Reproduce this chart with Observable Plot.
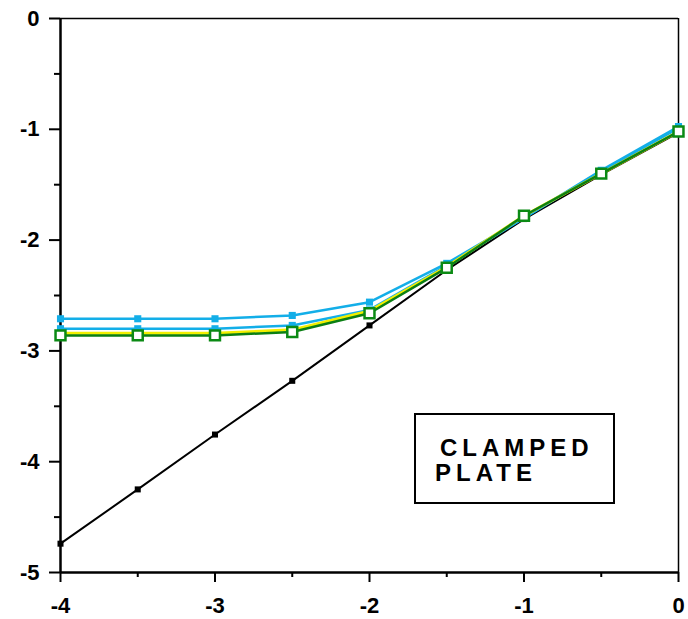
<!DOCTYPE html>
<html>
<head>
<meta charset="utf-8">
<script src="https://cdn.jsdelivr.net/npm/d3@7"></script>
<script src="https://cdn.jsdelivr.net/npm/@observablehq/plot@0.6"></script>
<style>
  html, body { margin: 0; padding: 0; background: #fff; }
  #wrap { position: relative; width: 688px; height: 619px; }
  #chart svg text { font-size: 22px !important; font-weight: bold !important; font-family: "Liberation Sans", Arial, sans-serif !important; }
  #legend {
    position: absolute; left: 414px; top: 413px; width: 197px; height: 87px;
    border: 2px solid #000; background: #fff;
    font-family: "Liberation Sans", Arial, sans-serif; font-weight: bold;
    font-size: 24px; letter-spacing: 5px; line-height: 25px; color: #000;
  }
  #legend .l1 { position: absolute; left: 24px; top: 20px; }
  #legend .l2 { position: absolute; left: 19px; top: 45px; }
</style>
</head>
<body>
<div id="wrap"><div id="chart"></div>
<div id="legend"><span class="l1">CLAMPED</span><span class="l2">PLATE</span></div>
</div>
<script>
const xs      = [-4, -3.5, -3, -2.5, -2, -1.5, -1, -0.5, 0];
const black   = [-4.74, -4.25, -3.755, -3.27, -2.77, -2.27, -1.81, -1.41, -1.03];
const cyanA   = [-2.71, -2.71, -2.71, -2.68, -2.56, -2.21, -1.80, -1.37, -0.975];
const cyanB   = [-2.80, -2.80, -2.80, -2.77, -2.63, -2.23, -1.80, -1.38, -0.99];
const yellow  = [-2.84, -2.84, -2.84, -2.81, -2.64, -2.24, -1.78, -1.40, -1.02];
const green   = [-2.86, -2.86, -2.86, -2.83, -2.66, -2.25, -1.78, -1.40, -1.02];
const yTicks  = [0, -1, -2, -3, -4, -5];
const yMinor  = [-0.5, -1.5, -2.5, -3.5, -4.5];
const xTicks  = [-4, -3, -2, -1, 0];
const xMinor  = [-3.5, -2.5, -1.5, -0.5];

const mk = arr => xs.map((x, i) => ({x, y: arr[i]}));
const blank = () => "";

const plot = Plot.plot({
  width: 688, height: 619,
  marginLeft: 60, marginRight: 10, marginTop: 18, marginBottom: 47,
  style: {fontFamily: "'Liberation Sans', Arial, sans-serif", fontSize: "22px", fontWeight: "bold", background: "#fff", color: "#000"},
  x: {domain: [-4, 0]},
  y: {domain: [-5, 0]},
  marks: [
    Plot.axisY(yTicks, {tickSize: 11, tickPadding: 10, tickFormat: d => String(d), strokeWidth: 2, label: null}),
    Plot.axisY(yMinor, {tickSize: 6, tickFormat: blank, strokeWidth: 2, label: null}),
    Plot.axisX(xTicks, {tickSize: 10, tickPadding: 15, tickFormat: d => String(d), strokeWidth: 2, label: null}),
    Plot.axisX(xMinor, {tickSize: 5, tickFormat: blank, strokeWidth: 2, label: null}),
    Plot.ruleX([-4], {stroke: "#000", strokeWidth: 2.5}),
    Plot.ruleY([-5], {stroke: "#000", strokeWidth: 2.5}),
    Plot.ruleY([0], {stroke: "#000", strokeWidth: 1.5}),
    Plot.ruleX([0], {stroke: "#000", strokeWidth: 1.5}),
    Plot.line(mk(black), {x: "x", y: "y", stroke: "#000", strokeWidth: 2}),
    Plot.dot(mk(black), {x: "x", y: "y", symbol: "square", r: 3.4, fill: "#000", stroke: "none"}),
    Plot.line(mk(cyanA), {x: "x", y: "y", stroke: "#13aee8", strokeWidth: 2.5}),
    Plot.dot(mk(cyanA), {x: "x", y: "y", symbol: "square", r: 4, fill: "#13aee8", stroke: "none"}),
    Plot.line(mk(cyanB), {x: "x", y: "y", stroke: "#13aee8", strokeWidth: 2.5}),
    Plot.dot(mk(cyanB), {x: "x", y: "y", symbol: "square", r: 4, fill: "#13aee8", stroke: "none"}),
    Plot.line(mk(yellow), {x: "x", y: "y", stroke: "#f2ef00", strokeWidth: 3}),
    Plot.line(mk(green), {x: "x", y: "y", stroke: "#0b7f14", strokeWidth: 2.5}),
    Plot.dot(mk(green), {x: "x", y: "y", symbol: "square", r: 5.6, fill: "#fff", stroke: "#0b8a14", strokeWidth: 2.5})
  ]
});
document.getElementById("chart").appendChild(plot);
</script>
</body>
</html>
